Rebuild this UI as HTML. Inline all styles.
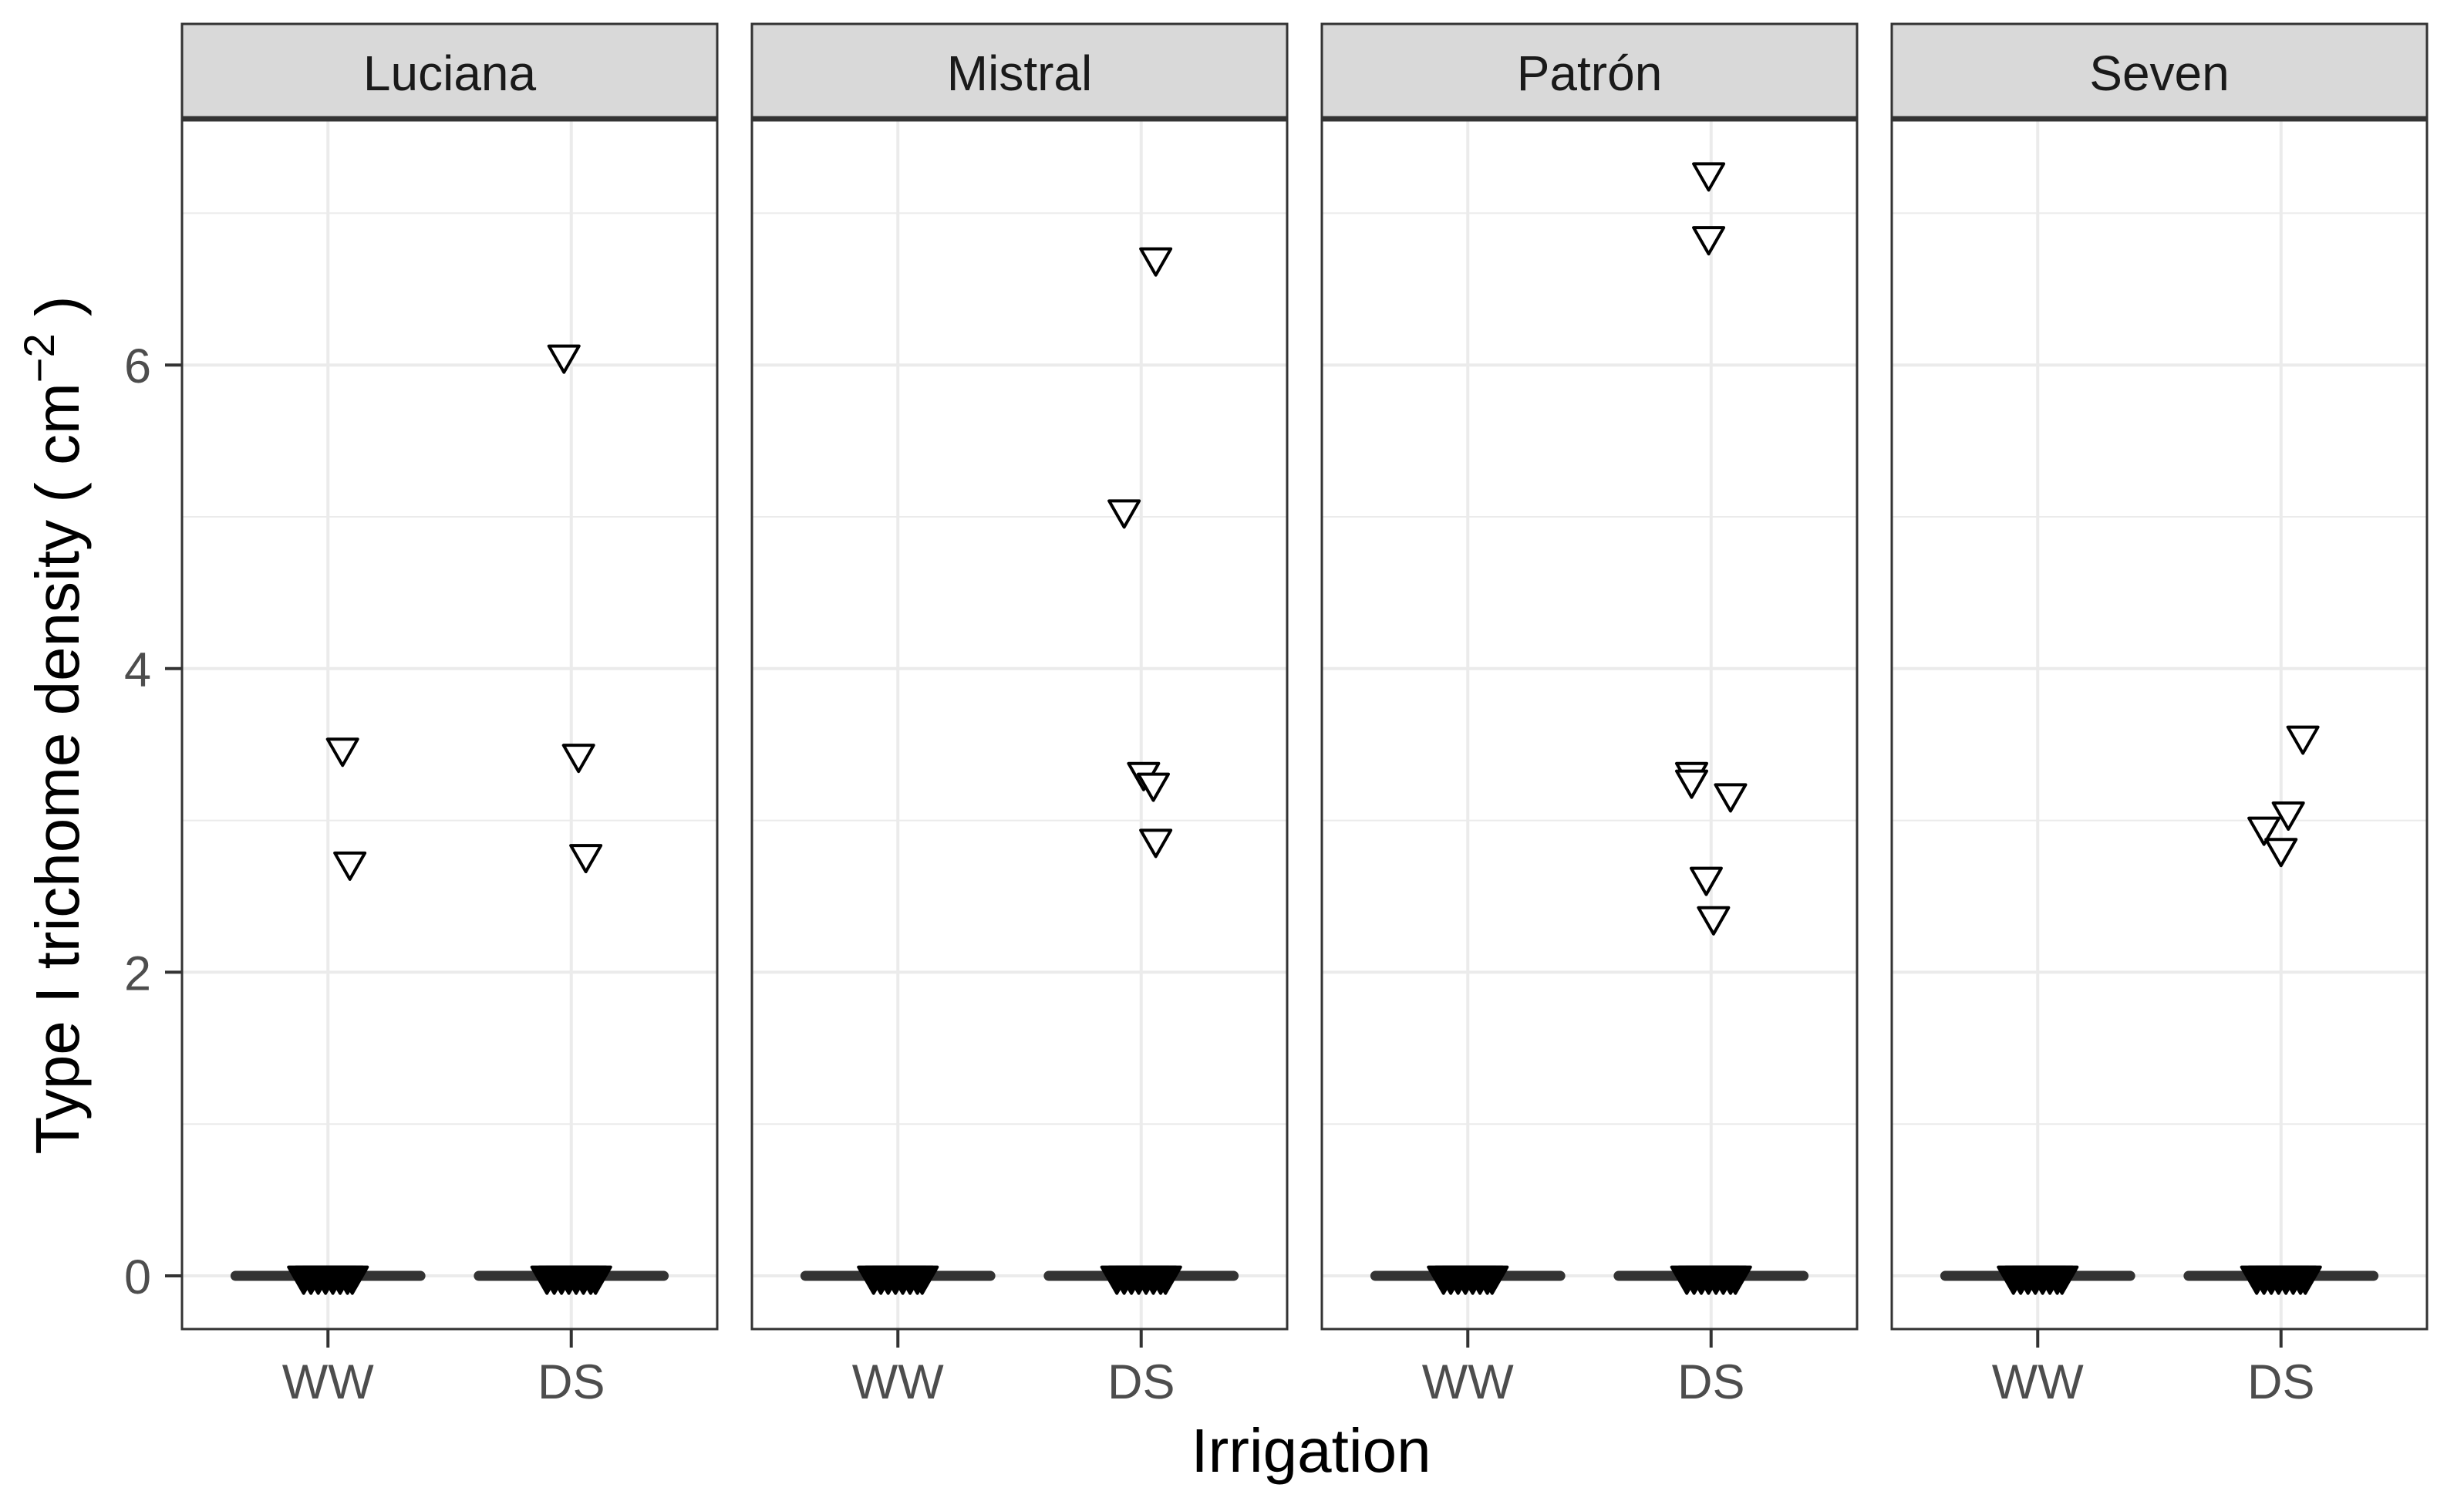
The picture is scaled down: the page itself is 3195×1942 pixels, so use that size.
<!DOCTYPE html>
<html><head><meta charset="utf-8">
<style>
html,body{margin:0;padding:0;background:#fff;}
svg{display:block;}
text{font-family:"Liberation Sans",Arial,sans-serif;}
</style></head>
<body>
<svg id="chart" width="3195" height="1942" viewBox="0 0 3195 1942" xmlns="http://www.w3.org/2000/svg">
<rect x="0" y="0" width="3195" height="1942" fill="#fff"/>
<text x="1700" y="1908" font-size="80" text-anchor="middle" fill="#000">Irrigation</text>
<text transform="translate(102,940) rotate(-90)" font-size="80" text-anchor="middle" fill="#000">Type I trichome density ( cm<tspan font-size="56" dy="-32">−2</tspan><tspan dy="32"> )</tspan></text>
</svg>
<script>
const panels = ["Luciana", "Mistral", "Patrón", "Seven"];
const categories = ["WW", "DS"];
const yTicks = [0, 2, 4, 6];
const yMinor = [1, 3, 5, 7];
const medians = [[0, 0], [0, 0], [0, 0], [0, 0]];
// non-zero observations per panel, per category: [value, jitter offset in category units]
const lucianaWW = [[3.44, 0.06], [2.69, 0.09]];
const lucianaDS = [[6.03, -0.03], [3.40, 0.03], [2.74, 0.06]];
const mistralWW = [];
const mistralDS = [[6.67, 0.06], [5.01, -0.07], [3.28, 0.01], [3.21, 0.05], [2.84, 0.06]];
const patronWW = [];
const patronDS = [[7.23, -0.01], [6.81, -0.01], [3.28, -0.08], [3.23, -0.08], [3.14, 0.08], [2.59, -0.02], [2.33, 0.01]];
const sevenWW = [];
const sevenDS = [[3.52, 0.09], [3.02, 0.03], [2.92, -0.07], [2.78, 0.00]];
const zeroJitter = [-0.1, -0.07, -0.04, -0.01, 0.02, 0.05, 0.08, 0.1];
const series = [[lucianaWW, lucianaDS], [mistralWW, mistralDS], [patronWW, patronDS], [sevenWW, sevenDS]];

const NS = "http://www.w3.org/2000/svg";
const svg = document.getElementById("chart");
const panelLeft0 = 236, panelW = 694, panelStep = 739;
const plotTop = 156, plotBottom = 1723, stripTop = 31;
const y0px = 1654, unitPx = 196.8;
function yScale(v){ return y0px - v * unitPx; }
function xScale(p, c){ return panelLeft0 + p * panelStep + (c + 1 - 0.4) / 2.2 * panelW; }
function mk(tag, attrs){ const e = document.createElementNS(NS, tag); for (const k in attrs) e.setAttribute(k, attrs[k]); svg.appendChild(e); return e; }
function tri(cx, cy, fill, name, topFrac){
  const h = 34, w = 39;
  const top = cy - h * topFrac, bot = top + h;
  const e = mk("polygon", {points: `${cx - w/2},${top} ${cx + w/2},${top} ${cx},${bot}`, fill: fill, stroke: "#000", "stroke-width": 4, "stroke-linejoin": "round"});
  
  
}

panels.forEach((name, p) => {
  const L = panelLeft0 + p * panelStep, R = L + panelW;
  yMinor.forEach(v => {
    const g = mk("line", {x1: L, x2: R, y1: yScale(v), y2: yScale(v), stroke: "#ebebeb", "stroke-width": 2});
    
    
  });
  yTicks.forEach(v => {
    const g = mk("line", {x1: L, x2: R, y1: yScale(v), y2: yScale(v), stroke: "#ebebeb", "stroke-width": 4});
    
    
  });
  categories.forEach((c, ci) => {
    const x = xScale(p, ci);
    const g = mk("line", {x1: x, x2: x, y1: plotTop, y2: plotBottom, stroke: "#ebebeb", "stroke-width": 4});
    
    
    const m = mk("line", {x1: x - 0.38 * panelW / 2.2, x2: x + 0.38 * panelW / 2.2, y1: yScale(medians[p][ci]), y2: yScale(medians[p][ci]), stroke: "#333", "stroke-width": 13, "stroke-linecap": "round"});
    
    
    zeroJitter.forEach(j => tri(x + j * panelW / 2.2, yScale(0), "#000", 'zero-point', 1/3));
    series[p][ci].forEach(d => tri(x + d[1] * panelW / 2.2, yScale(d[0]), "#fff", 'data-point', 0.55));
    const t = mk("line", {x1: x, x2: x, y1: plotBottom, y2: plotBottom + 24, stroke: "#333", "stroke-width": 4});
    
    
    const tl = mk("text", {x: x, y: 1813, "font-size": 63, "text-anchor": "middle", fill: "#4d4d4d"});
    tl.textContent = c;
    
    
  });
  const border = mk("rect", {x: L, y: plotTop, width: panelW, height: plotBottom - plotTop, fill: "none", stroke: "#333", "stroke-width": 3});
  
  
  const strip = mk("rect", {x: L, y: stripTop, width: panelW, height: plotTop - stripTop, fill: "#d9d9d9", stroke: "#333", "stroke-width": 3});
  
  
  const sl = mk("line", {x1: L, x2: R, y1: plotTop - 2, y2: plotTop - 2, stroke: "#333", "stroke-width": 7});
  
  
  const st = mk("text", {x: L + panelW / 2, y: 117, "font-size": 64, "text-anchor": "middle", fill: "#1a1a1a"});
  st.textContent = name;
  
  
});

yTicks.forEach(v => {
  const t = mk("line", {x1: 214, x2: 236, y1: yScale(v), y2: yScale(v), stroke: "#333", "stroke-width": 4});
  
  
  const tl = mk("text", {x: 196, y: yScale(v) + 23, "font-size": 63, "text-anchor": "end", fill: "#4d4d4d"});
  tl.textContent = v;
  
  
});
</script>
</body></html>
